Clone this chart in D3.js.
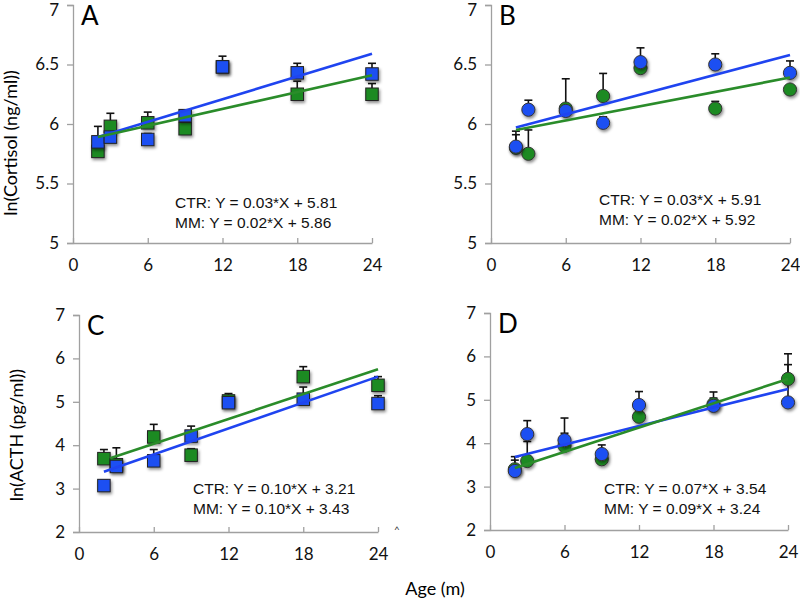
<!DOCTYPE html>
<html>
<head>
<meta charset="utf-8">
<script src="https://cdn.jsdelivr.net/npm/d3@7"></script>
<style>
  body { margin: 0; background: #fff; }
  svg { display: block; }
</style>
</head>
<body>
<svg width="800" height="601"></svg>
<script>
var ages = [2, 3, 6, 9, 12, 18, 24];

// A: cortisol, squares
var cortSqCTR = [5.85, 5.89, 5.87, 6.07, 6.48, 6.43, 6.42];
var cortSqCTRErr = [0.13, 0.03, 0.05, 0.04, 0.09, 0.08, 0.09];
var cortSqMM = [5.77, 5.98, 6.01, 5.96, 6.48, 6.25, 6.25];
var cortSqMMErr = [0.03, 0.11, 0.09, 0.03, 0.05, 0.11, 0.09];
var cortSqFitCTR = [[2, 5.89], [24, 6.59]];
var cortSqFitMM = [[2, 5.89], [24, 6.41]];

// B: cortisol, circles
var cortCiCTR = [5.81, 6.12, 6.11, 6.01, 6.52, 6.50, 6.43];
var cortCiCTRErr = [0.13, 0.08, 0.03, 0.05, 0.12, 0.09, 0.10];
var cortCiMM = [5.80, 5.75, 6.13, 6.235, 6.47, 6.13, 6.29];
var cortCiMMErr = [0.11, 0.20, 0.25, 0.19, 0.06, 0.06, 0.02];
var cortCiFitCTR = [[2, 5.97], [24, 6.58]];
var cortCiFitMM = [[2, 5.95], [24, 6.39]];

// C: ACTH, squares
var acthSqCTR = [3.07, 3.51, 3.64, 4.21, 4.98, 5.06, 4.96];
var acthSqCTRErr = [0.12, 0.43, 0.26, 0.23, 0.21, 0.28, 0.18];
var acthSqMM = [3.69, 3.55, 4.19, 3.77, 5.02, 5.58, 5.38];
var acthSqMMErr = [0.21, 0.10, 0.29, 0.15, 0.10, 0.23, 0.20];
var acthSqFitCTR = [[2, 3.39], [24, 5.58]];
var acthSqFitMM = [[2.5, 3.70], [24, 5.75]];

// D: ACTH, circles
var acthCiCTR = [3.36, 4.21, 4.07, 3.75, 4.88, 4.86, 4.94];
var acthCiCTRErr = [0.33, 0.31, 0.51, 0.21, 0.31, 0.32, 0.87];
var acthCiMM = [3.40, 3.59, 3.94, 3.63, 4.61, 4.90, 5.48];
var acthCiMMErr = [0.21, 0.45, 0.29, 0.10, 0.10, 0.14, 0.58];
var acthCiFitCTR = [[2, 3.68], [24, 5.25]];
var acthCiFitMM = [[2, 3.43], [24, 5.48]];

var xTicks = [0, 6, 12, 18, 24];
var cortTicks = [5, 5.5, 6, 6.5, 7];
var acthTicks = [2, 3, 4, 5, 6, 7];

var blue = "#1f4ff2", green = "#1f8a22";
var blueLine = "#1f44f0", greenLine = "#2a8c2a";

var panels = [
  { letter: "A", left: 73, right: 372, top: 5, bottom: 243, dom: [5, 7], ticks: cortTicks, shape: "square",
    ctr: cortSqCTR, ctrErr: cortSqCTRErr, mm: cortSqMM, mmErr: cortSqMMErr, fitCTR: cortSqFitCTR, fitMM: cortSqFitMM,
    eq: ["CTR: Y = 0.03*X + 5.81", "MM: Y = 0.02*X + 5.86"], eqX: 175, eqY: 208 },
  { letter: "B", left: 491, right: 790, top: 5, bottom: 243, dom: [5, 7], ticks: cortTicks, shape: "circle",
    ctr: cortCiCTR, ctrErr: cortCiCTRErr, mm: cortCiMM, mmErr: cortCiMMErr, fitCTR: cortCiFitCTR, fitMM: cortCiFitMM,
    eq: ["CTR: Y = 0.03*X + 5.91", "MM: Y = 0.02*X + 5.92"], eqX: 599, eqY: 205 },
  { letter: "C", left: 79, right: 378, top: 315, bottom: 532, dom: [2, 7], ticks: acthTicks, shape: "square",
    ctr: acthSqCTR, ctrErr: acthSqCTRErr, mm: acthSqMM, mmErr: acthSqMMErr, fitCTR: acthSqFitCTR, fitMM: acthSqFitMM,
    eq: ["CTR: Y = 0.10*X + 3.21", "MM: Y = 0.10*X + 3.43"], eqX: 193, eqY: 494 },
  { letter: "D", left: 490, right: 788, top: 313, bottom: 530, dom: [2, 7], ticks: acthTicks, shape: "circle",
    ctr: acthCiCTR, ctrErr: acthCiCTRErr, mm: acthCiMM, mmErr: acthCiMMErr, fitCTR: acthCiFitCTR, fitMM: acthCiFitMM,
    eq: ["CTR: Y = 0.07*X + 3.54", "MM: Y = 0.09*X + 3.24"], eqX: 604, eqY: 494 }
];

var svg = d3.select("svg");

var defs = svg.append("defs");
defs.append("filter").attr("id", "shadow")
    .attr("x", "-50%").attr("y", "-50%").attr("width", "200%").attr("height", "200%")
  .append("feDropShadow")
    .attr("dx", 1.2).attr("dy", 2)
    .attr("stdDeviation", 1.4)
    .attr("flood-color", "#000")
    .attr("flood-opacity", 0.45);

panels.forEach(function(p) {
  var x = d3.scaleLinear().domain([0, 24]).range([p.left, p.right]);
  var y = d3.scaleLinear().domain(p.dom).range([p.bottom, p.top]);
  var g = svg.append("g");

  var yAxis = g.append("g")
      .attr("transform", "translate(" + p.left + ",0)")
      .call(d3.axisLeft(y).tickValues(p.ticks).tickSize(6).tickPadding(8).tickFormat(d3.format("")));
  var xAxis = g.append("g")
      .attr("transform", "translate(0," + p.bottom + ")")
      .call(d3.axisBottom(x).tickValues(xTicks).tickSizeInner(-5).tickSizeOuter(0).tickPadding(16));

  [yAxis, xAxis].forEach(function(a) {
    a.selectAll("path, line").attr("stroke", "#a0a0a0").attr("stroke-width", 1.3);
    a.selectAll("text")
        .attr("fill", "#111")
        .style("font-family", "Lato, 'Open Sans', sans-serif")
        .style("font-size", "17px");
  });
  // keep the top tick label inside the picture
  yAxis.selectAll(".tick text").filter(function(d) { return d === p.dom[1] && p.top < 8; })
      .attr("dy", "0.38em").attr("y", 4);

  // error bars (upper only)
  var series = [
    { vals: p.mm, err: p.mmErr, color: green },
    { vals: p.ctr, err: p.ctrErr, color: blue }
  ];
  var eb = g.append("g").attr("stroke", "#111").attr("stroke-width", 1.6);
  series.forEach(function(s) {
    ages.forEach(function(a, i) {
      var cx = x(a), y0 = y(s.vals[i]), y1 = y(s.vals[i] + s.err[i]);
      eb.append("line").attr("x1", cx).attr("x2", cx).attr("y1", y0).attr("y2", y1);
      eb.append("line").attr("x1", cx - 4).attr("x2", cx + 4).attr("y1", y1).attr("y2", y1);
    });
  });

  // markers
  series.forEach(function(s) {
    var m = g.append("g").attr("filter", "url(#shadow)");
    var data = ages.map(function(a, i) { return { x: a, y: s.vals[i] }; });
    if (p.shape === "square") {
      m.selectAll("rect").data(data).enter().append("rect")
          .attr("x", function(d) { return x(d.x) - 6.25; })
          .attr("y", function(d) { return y(d.y) - 6.25; })
          .attr("width", 12.5).attr("height", 12.5)
          .attr("fill", s.color)
          .attr("stroke", "#222").attr("stroke-width", 1);
    } else {
      m.selectAll("circle").data(data).enter().append("circle")
          .attr("cx", function(d) { return x(d.x); })
          .attr("cy", function(d) { return y(d.y); })
          .attr("r", 6.6)
          .attr("fill", s.color)
          .attr("stroke", "#333").attr("stroke-width", 1);
    }
  });

  // fit lines
  var line = d3.line().x(function(d) { return x(d[0]); }).y(function(d) { return y(d[1]); });
  var fits = (p.letter === "C") ? [[p.fitMM, greenLine], [p.fitCTR, blueLine]] : [[p.fitCTR, blueLine], [p.fitMM, greenLine]];
  fits.forEach(function(f) {
    g.append("path").attr("d", line(f[0]))
        .attr("fill", "none").attr("stroke", f[1]).attr("stroke-width", 2.6);
  });

  // equations
  p.eq.forEach(function(t, i) {
    g.append("text")
        .attr("x", p.eqX).attr("y", p.eqY + i * 20)
        .style("font-family", "'Liberation Sans', Arial, sans-serif")
        .style("font-size", "15.5px")
        .attr("fill", "#111")
        .text(t);
  });

  // panel letter
  g.append("text")
      .attr("x", p.left + 8).attr("y", p.top + 20)
      .style("font-family", "Lato, 'Open Sans', sans-serif")
      .style("font-size", "26px")
      .attr("fill", "#000")
      .text(p.letter);
});

// axis titles
svg.append("text")
    .attr("transform", "translate(17,143) rotate(-90)")
    .attr("text-anchor", "middle")
    .style("font-family", "Lato, 'Open Sans', sans-serif")
    .style("font-size", "18px")
    .text("ln(Cortisol (ng/ml))");
svg.append("text")
    .attr("transform", "translate(23,435) rotate(-90)")
    .attr("text-anchor", "middle")
    .style("font-family", "Lato, 'Open Sans', sans-serif")
    .style("font-size", "18px")
    .text("ln(ACTH (pg/ml))");
svg.append("text")
    .attr("x", 435).attr("y", 595)
    .attr("text-anchor", "middle")
    .style("font-family", "Lato, 'Open Sans', sans-serif")
    .style("font-size", "18px")
    .text("Age (m)");
svg.append("text")
    .attr("x", 397).attr("y", 533)
    .attr("text-anchor", "middle")
    .style("font-family", "Lato, sans-serif")
    .style("font-size", "10px")
    .attr("fill", "#333")
    .text("^");
</script>
</body>
</html>
